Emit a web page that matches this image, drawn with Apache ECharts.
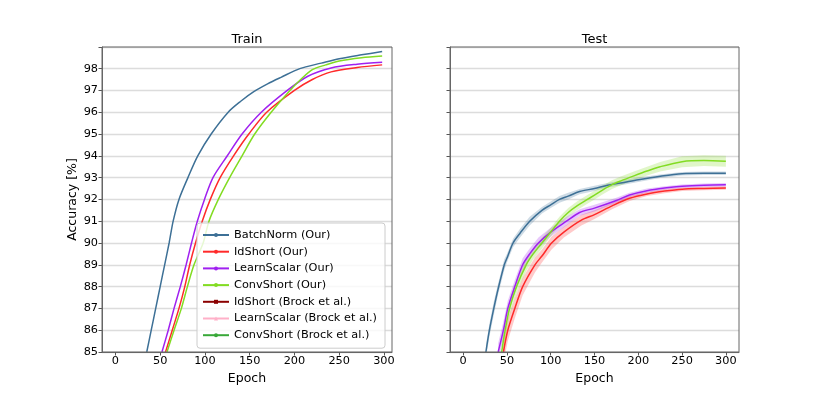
<!DOCTYPE html>
<html>
<head>
<meta charset="utf-8">
<script src="https://cdn.jsdelivr.net/npm/echarts@6/dist/echarts.min.js"></script>
<style>
  html, body { margin: 0; padding: 0; background: #fff; }
  #chart { width: 822px; height: 395px; }
</style>
</head>
<body>
<div id="chart"></div>
<script>
// tick labels
const epochTicks = [0, 50, 100, 150, 200, 250, 300];

const names = [
  'BatchNorm (Our)', 'IdShort (Our)', 'LearnScalar (Our)', 'ConvShort (Our)',
  'IdShort (Brock et al.)', 'LearnScalar (Brock et al.)', 'ConvShort (Brock et al.)'
];
const colors = ['#3d7096', '#ff2a2a', '#a020f0', '#82dc22', '#8b0000', '#ffb0c8', '#38a838'];

// train accuracy, [epoch, %]
const bnTrain = [[35, 85], [40, 86], [45, 87], [50, 88], [55, 89], [60, 90], [64.5, 91], [71, 92], [81, 93], [92, 94],
  [107, 95], [126, 96], [140, 96.5], [155, 96.95], [170, 97.3], [185, 97.6], [206, 98], [230, 98.25], [250, 98.45], [275, 98.63], [298, 98.78]];
const idTrain = [[56, 85], [63.5, 86], [71, 87], [77.5, 88], [83, 89], [89.5, 90], [97, 91], [106, 92], [117, 93], [132, 94],
  [149, 95], [169, 96], [200, 97], [220, 97.5], [241, 97.85], [270, 98.05], [298, 98.17]];
const lsTrain = [[52, 85], [59, 86], [65.5, 87], [72.5, 88], [79, 89], [85, 90], [91.5, 91], [99.5, 92], [109, 93], [125, 94],
  [141.5, 95], [163, 96], [192, 97], [215, 97.65], [241, 98.03], [270, 98.2], [298, 98.29]];
const csTrain = [[57.6, 85], [65.5, 86], [73.7, 87], [80.4, 88], [87.8, 89], [98, 90], [104.5, 91], [115, 92], [127.6, 93], [141.5, 94],
  [155.6, 95], [174, 96], [195, 97], [207, 97.5], [220, 97.95], [235, 98.17], [250, 98.35], [275, 98.5], [298, 98.58]];

// test accuracy, [epoch, %], with half width of the shaded band
const bnTest = [[26, 85], [30, 86], [35, 87], [40, 87.9], [47, 89], [50, 89.3], [57, 90], [65, 90.45], [76, 91], [90, 91.5],
  [100, 91.75], [110, 92], [120, 92.15], [133, 92.36], [150, 92.5], [165, 92.65], [180, 92.75], [200, 92.9], [225, 93.06],
  [250, 93.18], [275, 93.2], [300, 93.2]];
const bnTestSpread = [0.3, 0.3, 0.3, 0.25, 0.25, 0.2, 0.2, 0.2, 0.2, 0.15, 0.15, 0.15, 0.15, 0.12, 0.12, 0.1, 0.1, 0.1, 0.08, 0.08, 0.08, 0.08];
const idTest = [[46, 85], [51, 86], [59, 87], [68, 88], [82, 89], [90, 89.4], [101, 90], [115, 90.5], [135, 91.05], [150, 91.3],
  [170, 91.7], [190, 92.05], [210, 92.25], [230, 92.38], [250, 92.47], [275, 92.5], [300, 92.52]];
const idTestSpread = [0.5, 0.5, 0.45, 0.4, 0.35, 0.3, 0.3, 0.25, 0.25, 0.2, 0.15, 0.12, 0.1, 0.1, 0.08, 0.08, 0.08];
const lsTest = [[40, 85], [46, 86], [51, 87], [59, 88], [68, 89], [76, 89.5], [86, 90], [100, 90.5], [118, 91], [133, 91.4],
  [150, 91.6], [175, 91.95], [190, 92.2], [210, 92.4], [230, 92.52], [250, 92.6], [275, 92.65], [300, 92.67]];
const lsTestSpread = [0.4, 0.4, 0.35, 0.3, 0.3, 0.25, 0.25, 0.2, 0.2, 0.15, 0.15, 0.12, 0.1, 0.1, 0.08, 0.08, 0.08, 0.08];
const csTest = [[44, 85], [48, 86], [53, 87], [61, 88], [72, 89], [80, 89.5], [90, 90], [100, 90.5], [110, 91], [120, 91.4],
  [130, 91.7], [140, 91.95], [150, 92.2], [160, 92.45], [170, 92.68], [180, 92.85], [195, 93.08], [210, 93.3], [225, 93.5],
  [250, 93.73], [275, 93.78], [300, 93.75]];
const csTestSpread = [0.4, 0.4, 0.35, 0.3, 0.3, 0.25, 0.25, 0.2, 0.2, 0.2, 0.2, 0.2, 0.2, 0.2, 0.2, 0.2, 0.2, 0.2, 0.22, 0.25, 0.25, 0.25];

const font = 'DejaVu Sans';
const chart = echarts.init(document.getElementById('chart'));

const xAxis = (gi, max) => ({
  type: 'value', gridIndex: gi, min: -15, max: max, position: 'bottom',
  axisLine: { show: true, onZero: false, lineStyle: { color: '#666', width: 1 } },
  axisTick: { show: true, customValues: epochTicks, length: 3.5, lineStyle: { color: '#555' } },
  axisLabel: { customValues: epochTicks, fontSize: 11.3, fontFamily: font, color: '#000', margin: 4 },
  splitLine: { show: false },
  name: 'Epoch', nameLocation: 'middle', nameGap: 15,
  nameTextStyle: { fontSize: 12.5, fontFamily: font, color: '#000' }
});

const yAxis = (gi, labels) => ({
  type: 'value', gridIndex: gi, min: 85, max: 98.99, interval: 1, position: 'left',
  axisLine: { show: true, onZero: false, lineStyle: { color: '#666', width: 1 } },
  axisTick: { show: true, length: 3.5, lineStyle: { color: '#555' } },
  axisLabel: {
    show: labels, fontSize: 11.3, fontFamily: font, color: '#000', margin: 4,
    formatter: v => (Number.isInteger(v) ? String(v) : '')
  },
  splitLine: { show: true, lineStyle: { color: '#dcdcdc', width: 1.4 } },
  name: labels ? 'Accuracy [%]' : '', nameLocation: 'middle', nameGap: 14,
  nameTextStyle: { fontSize: 12.5, fontFamily: font, color: '#000' }
});

const line = (name, data, color, gi, symbol) => ({
  name: name, type: 'line', xAxisIndex: gi, yAxisIndex: gi, data: data,
  smooth: 0.3, showSymbol: false, symbol: symbol || 'circle', symbolSize: 4,
  lineStyle: { color: color, width: 1.5 }, itemStyle: { color: color }, z: 3
});

// shaded std band drawn as a polygon through the axes' coordinates
const band = (data, spread, color, gi) => {
  const upper = data.map((p, i) => [p[0], p[1] + spread[i]]);
  const lower = data.map((p, i) => [p[0], p[1] - spread[i]]);
  return {
    type: 'custom', xAxisIndex: gi, yAxisIndex: gi, data: [[data[0][0], data[0][1]]], silent: true, z: 1,
    renderItem: (params, api) => {
      const pts = upper.map(p => api.coord(p)).concat(lower.slice().reverse().map(p => api.coord(p)));
      const cs = params.coordSys;
      return {
        type: 'group',
        clipPath: { type: 'rect', shape: { x: cs.x, y: cs.y, width: cs.width, height: cs.height } },
        children: [{ type: 'polygon', shape: { points: pts }, style: { fill: color, opacity: 0.25 } }]
      };
    }
  };
};

const series = [
  line(names[0], bnTrain, colors[0], 0),
  line(names[1], idTrain, colors[1], 0),
  line(names[2], lsTrain, colors[2], 0),
  line(names[3], csTrain, colors[3], 0),
  line(names[4], [], colors[4], 0, 'rect'),
  line(names[5], [], colors[5], 0, 'triangle'),
  line(names[6], [], colors[6], 0),
  band(bnTest, bnTestSpread, colors[0], 1),
  band(idTest, idTestSpread, colors[1], 1),
  band(lsTest, lsTestSpread, colors[2], 1),
  band(csTest, csTestSpread, colors[3], 1),
  line(names[0], bnTest, colors[0], 1),
  line(names[1], idTest, colors[1], 1),
  line(names[2], lsTest, colors[2], 1),
  line(names[3], csTest, colors[3], 1)
];

chart.setOption({
  animation: false,
  backgroundColor: '#fff',
  grid: [
    { left: 102, top: 47, width: 290, height: 305, show: true, borderColor: '#666', borderWidth: 1, backgroundColor: 'transparent', z: 4 },
    { left: 450, top: 47, width: 289, height: 305, show: true, borderColor: '#666', borderWidth: 1, backgroundColor: 'transparent', z: 4 }
  ],
  xAxis: [xAxis(0, 309), xAxis(1, 315)],
  yAxis: [yAxis(0, true), yAxis(1, false)],
  legend: {
    data: names, orient: 'vertical', left: 197, top: 223,
    itemWidth: 26, itemHeight: 5, itemGap: 2.7, padding: [5, 8, 6, 5],
    backgroundColor: 'rgba(255,255,255,0.8)', borderColor: '#ccc', borderWidth: 1, borderRadius: 3,
    textStyle: { fontSize: 11.3, fontFamily: font, color: '#000', lineHeight: 14 }, z: 6
  },
  graphic: [
    { type: 'text', x: 247, y: 40, style: { text: 'Train', font: '13px "DejaVu Sans"', fill: '#000', textAlign: 'center', textVerticalAlign: 'middle', align: 'center', verticalAlign: 'middle' } },
    { type: 'text', x: 594.5, y: 40, style: { text: 'Test', font: '13px "DejaVu Sans"', fill: '#000', textAlign: 'center', textVerticalAlign: 'middle', align: 'center', verticalAlign: 'middle' } }
  ],
  series: series
});
</script>
</body>
</html>
